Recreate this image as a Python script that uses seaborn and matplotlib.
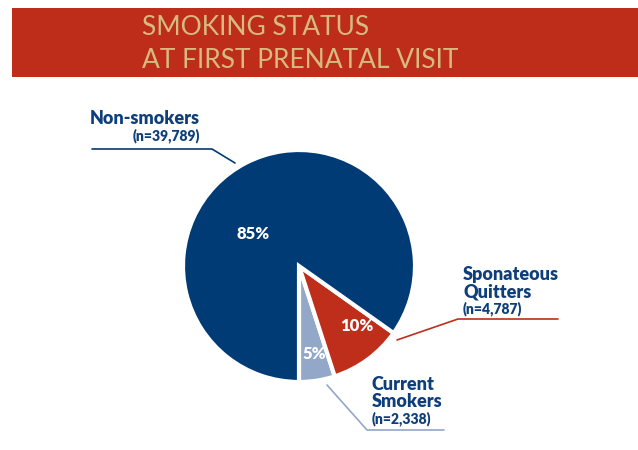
import matplotlib
matplotlib.use("Agg")
import matplotlib.pyplot as plt
import seaborn as sns
from matplotlib.patches import Rectangle

sns.set_theme(style="white")
plt.rcParams['font.family'] = ['Lato', 'DejaVu Sans']

# data
categories = ["Current\nSmokers", "Sponateous\nQuitters", "Non-smokers"]
counts = [2338, 4787, 39789]
colors = ["#93A7C8", "#BF2E1A", "#003B76"]

title_lines = ["SMOKING STATUS", "AT FIRST PRENATAL VISIT"]

total = sum(counts)
pcts = [round(100 * c / total) for c in counts]

W, H = 638, 450
fig = plt.figure(figsize=(W / 100, H / 100), dpi=100)
fig.patch.set_facecolor("white")

# banner
fig.patches.append(Rectangle((12 / W, 1 - 77 / H), 1, 69 / H,
                             transform=fig.transFigure, facecolor="#BE2C1A",
                             edgecolor="none", zorder=0))
fig.text(142 / W, 1 - 35 / H, title_lines[0], fontsize=19, color="#D6BA7E",
         fontweight="normal", va="baseline", ha="left")
fig.text(142 / W, 1 - 68 / H, title_lines[1], fontsize=19, color="#D6BA7E",
         fontweight="normal", va="baseline", ha="left")

# pixel coordinates, y measured from bottom
ax = fig.add_axes([0, 0, 1, 1])
ax.set_xlim(0, W)
ax.set_ylim(0, H)
ax.axis("off")

cx, cy, r = 299, H - 266, 116
ax.pie(counts, colors=colors, startangle=270, counterclock=True,
       center=(cx, cy), radius=r, explode=[0.02, 0.02, 0],
       wedgeprops=dict(edgecolor="white", linewidth=3))
ax.set_xlim(0, W)
ax.set_ylim(0, H)

def y(v):
    return H - v

# percentage labels
pct_pos = [(314, 354), (357, 326), (253, 234)]
for p, (px, py) in zip(pcts, pct_pos):
    ax.text(px, y(py), f"{p}%", color="white", fontsize=12, fontweight="heavy",
            ha="center", va="center")

navy = "#0E3F7A"
wt = "heavy"

# Non-smokers label
ax.text(200, y(124), "Non-smokers", color=navy, fontsize=13, fontweight=wt,
        ha="right", va="baseline")
ax.text(200, y(140), f"(n={counts[2]:,})", color=navy, fontsize=10,
        fontweight=wt, ha="right", va="baseline")
ax.plot([92, 212, 235], [y(149), y(149), y(163)], color=colors[2], lw=1.2)

# Quitters label
ax.text(463, y(280), "Sponateous", color=navy, fontsize=13, fontweight=wt,
        ha="left", va="baseline")
ax.text(463, y(297), "Quitters", color=navy, fontsize=13, fontweight=wt,
        ha="left", va="baseline")
ax.text(463, y(313), f"(n={counts[1]:,})", color=navy, fontsize=10,
        fontweight=wt, ha="left", va="baseline")
ax.plot([397, 458, 558], [y(340), y(319), y(319)], color=colors[1], lw=1.2)

# Current smokers label
ax.text(372, y(390), "Current", color=navy, fontsize=13, fontweight=wt,
        ha="left", va="baseline")
ax.text(372, y(407), "Smokers", color=navy, fontsize=13, fontweight=wt,
        ha="left", va="baseline")
ax.text(372, y(423), f"(n={counts[0]:,})", color=navy, fontsize=10,
        fontweight=wt, ha="left", va="baseline")
ax.plot([327, 367, 444], [y(385), y(430), y(430)], color=colors[0], lw=1.2)

fig.savefig("out.png", dpi=100)
